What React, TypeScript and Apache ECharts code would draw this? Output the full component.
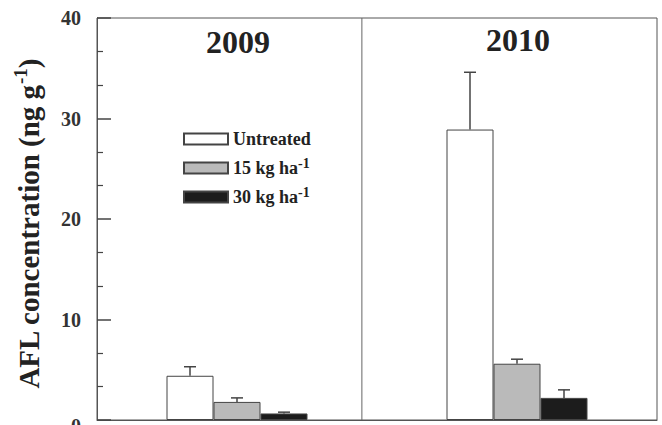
import React, { useEffect, useRef } from "react";
import * as echarts from "echarts";

const years = ["2009", "2010"];
const treatments = ["Untreated", "15 kg ha-1", "30 kg ha-1"];
// mean AFL concentration per treatment, one entry per year
const untreatedMean = [4.4, 28.9];
const kg15Mean = [1.8, 5.6];
const kg30Mean = [0.65, 2.2];
// upper end of the error bar (mean + SE)
const untreatedUpper = [5.3, 34.6];
const kg15Upper = [2.2, 6.05];
const kg30Upper = [0.78, 3.0];
// position of the separator between the two seasons, on a 0..2 scale
const separatorAt = [0.946];
const yTicks = [0, 10, 20, 30, 40];

const fills = ["#ffffff", "#bababa", "#1c1c1c"];
const serif = "'Liberation Serif', 'Times New Roman', serif";
const BAR_W = 47;

export default function App() {
  const ref = useRef<HTMLDivElement>(null);

  useEffect(() => {
    if (!ref.current) return;
    const chart = echarts.init(ref.current, null, { renderer: "svg" });
    const means = [untreatedMean, kg15Mean, kg30Mean];
    const uppers = [untreatedUpper, kg15Upper, kg30Upper];

    const barSeries = treatments.map((name, i) => ({
      name,
      type: "bar",
      xAxisIndex: 0,
      barWidth: BAR_W,
      barGap: "0%",
      data: means[i],
      itemStyle: { color: fills[i], borderColor: "#444", borderWidth: 1 },
    }));

    const errSeries = treatments.map((name, i) => ({
      type: "custom",
      xAxisIndex: 0,
      z: 3,
      data: years.map((_, k) => [k, means[i][k], uppers[i][k]]),
      encode: { x: 0, y: [1, 2] },
      renderItem: (params: any, api: any) => {
        const base = api.coord([api.value(0), api.value(1)]);
        const top = api.coord([api.value(0), api.value(2)]);
        const x = base[0] + (i - 1) * BAR_W;
        const style = { stroke: "#444", lineWidth: 1.5 };
        return {
          type: "group",
          children: [
            { type: "line", shape: { x1: x, y1: base[1], x2: x, y2: top[1] }, style },
            { type: "line", shape: { x1: x - 6, y1: top[1], x2: x + 6, y2: top[1] }, style },
          ],
        };
      },
    }));

    chart.setOption({
      animation: false,
      grid: {
        left: 97,
        top: 18,
        right: 5,
        bottom: 5,
        containLabel: false,
        outerBoundsMode: "none",
        show: true,
        borderColor: "#555",
        borderWidth: 1,
        backgroundColor: "transparent",
      },
      legend: {
        data: treatments,
        orient: "vertical",
        left: 178,
        top: 125,
        itemWidth: 44,
        itemHeight: 11,
        itemGap: 8,
        icon: "rect",
        textStyle: {
          fontFamily: serif,
          fontWeight: "bold",
          fontSize: 18,
          color: "#222",
          rich: {
            sup: {
              fontFamily: serif,
              fontWeight: "bold",
              fontSize: 14,
              color: "#222",
              padding: [0, 0, 10, 0],
            },
          },
        },
        formatter: (name: string) => name.replace("-1", "{sup|-1}"),
      },
      xAxis: [
        {
          type: "category",
          data: years,
          axisLine: { show: true, lineStyle: { color: "#555" } },
          axisTick: { show: false },
          axisLabel: { show: false },
          splitLine: { show: false },
        },
        {
          type: "value",
          min: 0,
          max: 2,
          show: false,
        },
      ],
      yAxis: {
        type: "value",
        min: 0,
        max: 40,
        interval: 10,
        axisLine: { show: true, lineStyle: { color: "#555" } },
        axisTick: { show: true, inside: true, length: 14, lineStyle: { color: "#444", width: 1.5 } },
        minorTick: { show: true, splitNumber: 3, length: 6, lineStyle: { color: "#444", width: 1.2 } },
        splitLine: { show: false },
        axisLabel: {
          margin: 16,
          fontFamily: serif,
          fontWeight: "bold",
          fontSize: 20,
          color: "#333",
          formatter: (v: number) =>
            v === 0 ? "{zero|0}" : yTicks.includes(v) ? String(v) : "",
          rich: {
            zero: {
              fontFamily: serif,
              fontWeight: "bold",
              fontSize: 20,
              color: "#333",
              padding: [12, 0, 0, 0],
            },
          },
        },
        name: "AFL concentration (ng g{sup|-1})",
        nameLocation: "middle",
        nameGap: 50,
        nameTextStyle: {
          fontFamily: serif,
          fontWeight: "bold",
          fontSize: 29,
          color: "#222",
          padding: [0, 10, 0, 0],
          rich: {
            sup: {
              fontFamily: serif,
              fontWeight: "bold",
              fontSize: 19,
              color: "#222",
              padding: [0, 0, 17, 0],
            },
          },
        },
      },
      graphic: [
        {
          type: "text",
          x: 238,
          y: 42,
          style: {
            text: years[0],
            font: `bold 32px ${serif}`,
            fill: "#222",
            textAlign: "center",
            textVerticalAlign: "middle",
          },
        },
        {
          type: "text",
          x: 518,
          y: 40,
          style: {
            text: years[1],
            font: `bold 32px ${serif}`,
            fill: "#222",
            textAlign: "center",
            textVerticalAlign: "middle",
          },
        },
      ],
      series: [
        ...barSeries,
        ...errSeries,
        {
          type: "line",
          xAxisIndex: 1,
          symbol: "none",
          silent: true,
          lineStyle: { color: "#666", width: 1 },
          data: [
            [separatorAt[0], 0],
            [separatorAt[0], 40],
          ],
        },
      ],
    });
    return () => chart.dispose();
  }, []);

  return (
    <div
      ref={ref}
      style={{ position: "fixed", left: 0, top: 0, width: 662, height: 425, background: "#fff" }}
    />
  );
}
